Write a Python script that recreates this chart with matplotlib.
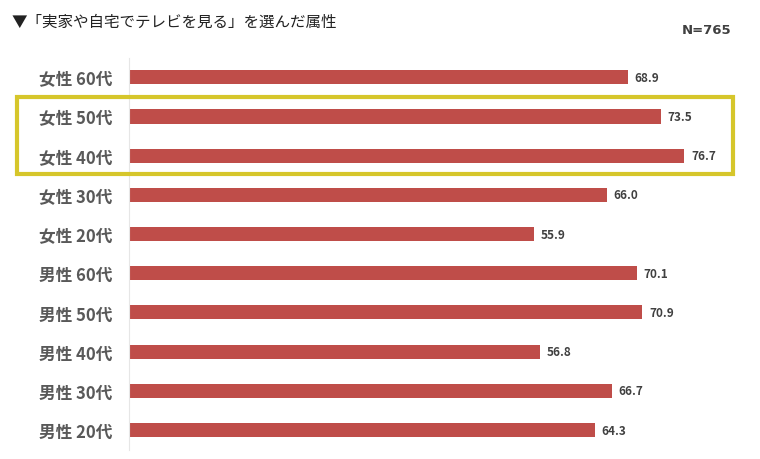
import matplotlib.pyplot as plt
from matplotlib.patches import Rectangle

plt.rcParams['font.family'] = ['Noto Sans CJK JP', 'DejaVu Sans']

# 属性と値（上から順）
labels = ['女性 60代', '女性 50代', '女性 40代', '女性 30代', '女性 20代',
          '男性 60代', '男性 50代', '男性 40代', '男性 30代', '男性 20代']
values = [68.9, 73.5, 76.7, 66.0, 55.9, 70.1, 70.9, 56.8, 66.7, 64.3]

fig = plt.figure(figsize=(7.6, 4.6), dpi=100)
ax = fig.add_axes([0.1697, 0.0204, 0.81, 0.852])

y = list(range(len(labels)))[::-1]
ax.barh(y, values, height=0.36, color='#BF4D49')

for yi, v in zip(y, values):
    ax.text(v + 0.9, yi, f'{v:.1f}', va='center', ha='left',
            fontsize=8.5, fontweight='bold', color='#404040')

ax.set_yticks(y)
ax.set_yticklabels(labels, fontsize=12, fontweight='bold', color='#595959')
ax.tick_params(axis='y', length=0, pad=12)
ax.set_xticks([])
ax.set_xlim(0, 85)
ax.set_ylim(-0.5, 9.5)
for s in ['top', 'right', 'bottom']:
    ax.spines[s].set_visible(False)
ax.spines['left'].set_color('#E6E6E6')
ax.spines['left'].set_linewidth(0.8)

# 女性50代・40代を囲む枠
fig.patches.append(Rectangle((17 / 760, 1 - 175 / 460), (733 - 17) / 760, (175 - 98) / 460,
                             transform=fig.transFigure, fill=False,
                             edgecolor='#D6C62B', linewidth=3))

fig.text(12 / 760, 1 - 22 / 460, '▼「実家や自宅でテレビを見る」を選んだ属性',
         fontsize=11.2, color='#222222', va='center', ha='left')
fig.text(731 / 760, 1 - 30 / 460, 'N=765', fontsize=9.5, fontweight='bold',
         color='#404040', va='center', ha='right', family=['DejaVu Sans'])

fig.savefig('out.png', dpi=100)
